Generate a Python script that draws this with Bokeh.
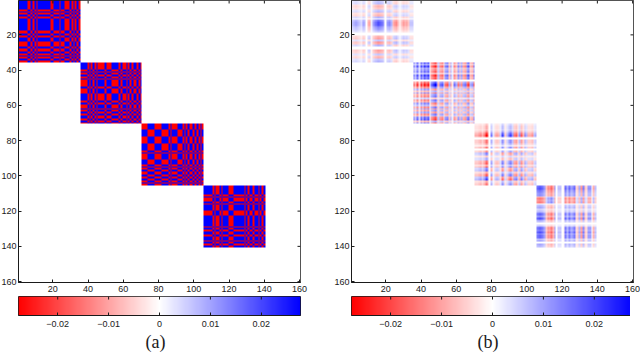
import numpy as np
from bokeh.plotting import figure
from bokeh.layouts import row, column
from bokeh.models import Range1d, FixedTicker, LinearColorMapper, Title
from bokeh.embed import file_html
from bokeh.resources import INLINE

axis_ticks = [20, 40, 60, 80, 100, 120, 140, 160]
cbar_ticks = [-0.02, -0.01, 0, 0.01, 0.02]
cbar_labels = {-0.02: "\u22120.02", -0.01: "\u22120.01", 0: "0", 0.01: "0.01", 0.02: "0.02"}
color_limit = 0.0277
block_size = 35

# panel (a): sign patterns read per block, rows and columns
a_cols = [
    "+++++--+-+-+++++++--+++-++---+-+-+-",
    "++++-+-+-+----+---++++-+--+-+-++-+-",
    "---++++----++++-+---+++-+-+--+-+-+-",
    "+++++-+--+-+++---++++++-+-++-++-+-+",
]
a_rows = [
    "+++++-+-+-+++++++--+-++---+--+-+-+-",
    "++++-+-+-+----+---++++-+--+-+-++-+-",
    "+++----++++----+-+++---+-+-++-+-+-+",
    "+++++-+--+-+++---++++++-+-++-++-+-+",
]

# panel (b): row and column weights read per block
b_scale = [0.024, 0.034, 0.034, 0.030]
b_cols = [
    [.3,.4,.5,.4,.3,.2,.5,.4,.0,-.4,-.5,.1,.5,.7,.8,.9,.8,.7,.4,.0,.5,.6,.4,-.3,-.5,-.6,-.3,.0,-.3,-.5,-.4,-.5,-.3,.3,.3],
    [.6,.3,.7,.2,.7,.3,.8,.6,.8,.0,-.5,-.7,-.9,-.5,.3,-.5,-.6,-.2,.5,.6,-.3,.4,.1,-.5,-.3,.5,-.3,.4,-.4,-.5,.5,.7,-.3,-.4,.6],
    [-.3,-.3,-.4,-.5,-.3,-.5,-.9,-.6,.0,.5,.1,-.3,-.4,-.3,.2,.7,.4,-.2,.3,.6,.8,.4,-.5,-.6,-.2,.4,-.6,-.3,.5,.3,-.3,-.3,-.4,.2,.3],
    [.7,.8,.8,.7,.5,-.3,-.6,-.5,-.7,-.4,.5,.0,.3,.3,.0,-.1,.7,.4,.7,.4,.5,.7,-.2,-.3,.4,-.5,.6,-.3,-.2,.5,.5,.0,-.4,.3,.0],
]
b_rows = [
    [.3,.35,-.3,-.4,-.3,.3,.4,-.3,-.4,.4,.0,.7,.9,.9,.8,.6,.5,.3,.0,.0,-.4,-.5,.3,-.6,-.5,.4,.0,.0,-.5,-.4,.3,-.3,-.4,.3,.4],
    [.8,.4,.8,.4,.5,.7,.3,.8,.6,.7,.0,-.6,-.9,-.9,-.5,.4,-.3,.5,-.4,-.5,.2,-.6,-.4,.5,.3,-.5,.4,-.4,.4,-.5,-.3,.6,.7,-.3,.5],
    [.2,.3,.3,.2,.4,.7,.9,.5,.0,.5,.5,.3,.0,.5,.0,.4,-.5,-.4,.2,-.3,-.3,.5,.6,.3,.6,-.4,-.5,.3,.5,.6,-.5,-.7,.3,.4,.5],
    [.7,.8,.7,.6,.5,.5,-.3,-.6,-.5,-.6,.0,.3,.4,.2,.3,.6,.7,.5,.8,.5,.3,.0,.2,.6,.7,.6,.8,.5,.7,.7,.3,.5,.0,.4,.3],
]

FONT = "Liberation Sans"
INK = "#1a1a1a"


def ramp():
    up = np.linspace(0, 255, 128).astype(int)
    down = up[::-1]
    reds = [f"#ff{v:02x}{v:02x}" for v in up]
    blues = [f"#{v:02x}{v:02x}ff" for v in down]
    return reds + blues


mapper = LinearColorMapper(palette=ramp(), low=-color_limit, high=color_limit, nan_color="#ffffff")


def matrix(blocks):
    m = np.full((160, 160), np.nan)
    for k, b in enumerate(blocks):
        s = k * block_size
        m[s:s + block_size, s:s + block_size] = b
    return m


def signs(text):
    return np.array([1.0 if ch == "+" else -1.0 for ch in text])


def style_axis(ax):
    ax.major_tick_in = 3
    ax.major_tick_out = 0
    ax.minor_tick_line_color = None
    ax.major_label_text_font = FONT
    ax.major_label_text_font_size = "9px"
    ax.major_label_text_color = INK
    ax.axis_line_color = INK
    ax.major_tick_line_color = INK


def heat(m, left, right):
    p = figure(width=320, height=296, frame_width=282, frame_height=282,
               x_range=Range1d(0.5, 160.5), y_range=Range1d(160.5, 0.5),
               output_backend="svg", toolbar_location=None,
               min_border_left=left, min_border_right=right, min_border_top=0, min_border_bottom=14)
    p.grid.visible = False
    p.image(image=[m], x=0.5, y=0.5, dw=160, dh=160, color_mapper=mapper)
    p.outline_line_color = INK
    for ax in (p.xaxis[0], p.yaxis[0]):
        ax.ticker = FixedTicker(ticks=axis_ticks)
        style_axis(ax)
    p.xaxis.major_label_standoff = 3
    p.yaxis.major_label_standoff = 2
    # tick marks on the top and right edges of the box
    p.segment(x0=axis_ticks, x1=axis_ticks, y0=[0.5] * 8, y1=[2.2] * 8, line_color=INK, line_width=1)
    p.segment(x0=[160.5] * 8, x1=[158.8] * 8, y0=axis_ticks, y1=axis_ticks, line_color=INK, line_width=1)
    return p


def cbar(caption, left, right, offset):
    p = figure(width=320, height=56, frame_width=282, frame_height=19,
               x_range=Range1d(-color_limit, color_limit), y_range=Range1d(0, 1),
               output_backend="svg", toolbar_location=None,
               min_border_left=left, min_border_right=right, min_border_top=0, min_border_bottom=37)
    p.grid.visible = False
    p.yaxis.visible = False
    grad = np.linspace(-color_limit, color_limit, 256)[None, :]
    p.image(image=[grad], x=-color_limit, y=0, dw=2 * color_limit, dh=1, color_mapper=mapper)
    p.outline_line_color = INK
    ax = p.xaxis[0]
    ax.ticker = FixedTicker(ticks=cbar_ticks)
    ax.major_label_overrides = cbar_labels
    style_axis(ax)
    ax.major_label_standoff = 5
    p.segment(x0=cbar_ticks, x1=cbar_ticks, y0=[1] * 5, y1=[0.84] * 5, line_color=INK, line_width=1)
    t = Title(text=caption, align="left", offset=offset, text_font="Liberation Serif",
              text_font_size="18px", text_font_style="normal", text_color=INK, standoff=1)
    p.add_layout(t, "below")
    return p


a_blocks = [color_limit * np.outer(signs(r), signs(c)) for r, c in zip(a_rows, a_cols)]
b_blocks = [s * np.outer(r, c) for s, r, c in zip(b_scale, b_rows, b_cols)]

left_col = column(heat(matrix(a_blocks), 10, 31), cbar("(a)", 10, 31, 127), spacing=0)
right_col = column(heat(matrix(b_blocks), 10, 7), cbar("(b)", 10, 7, 126), spacing=0)
root = row(left_col, right_col, spacing=0)
root.styles = {"margin-left": "-2px"}

open("out.html", "w").write(file_html(root, INLINE))
